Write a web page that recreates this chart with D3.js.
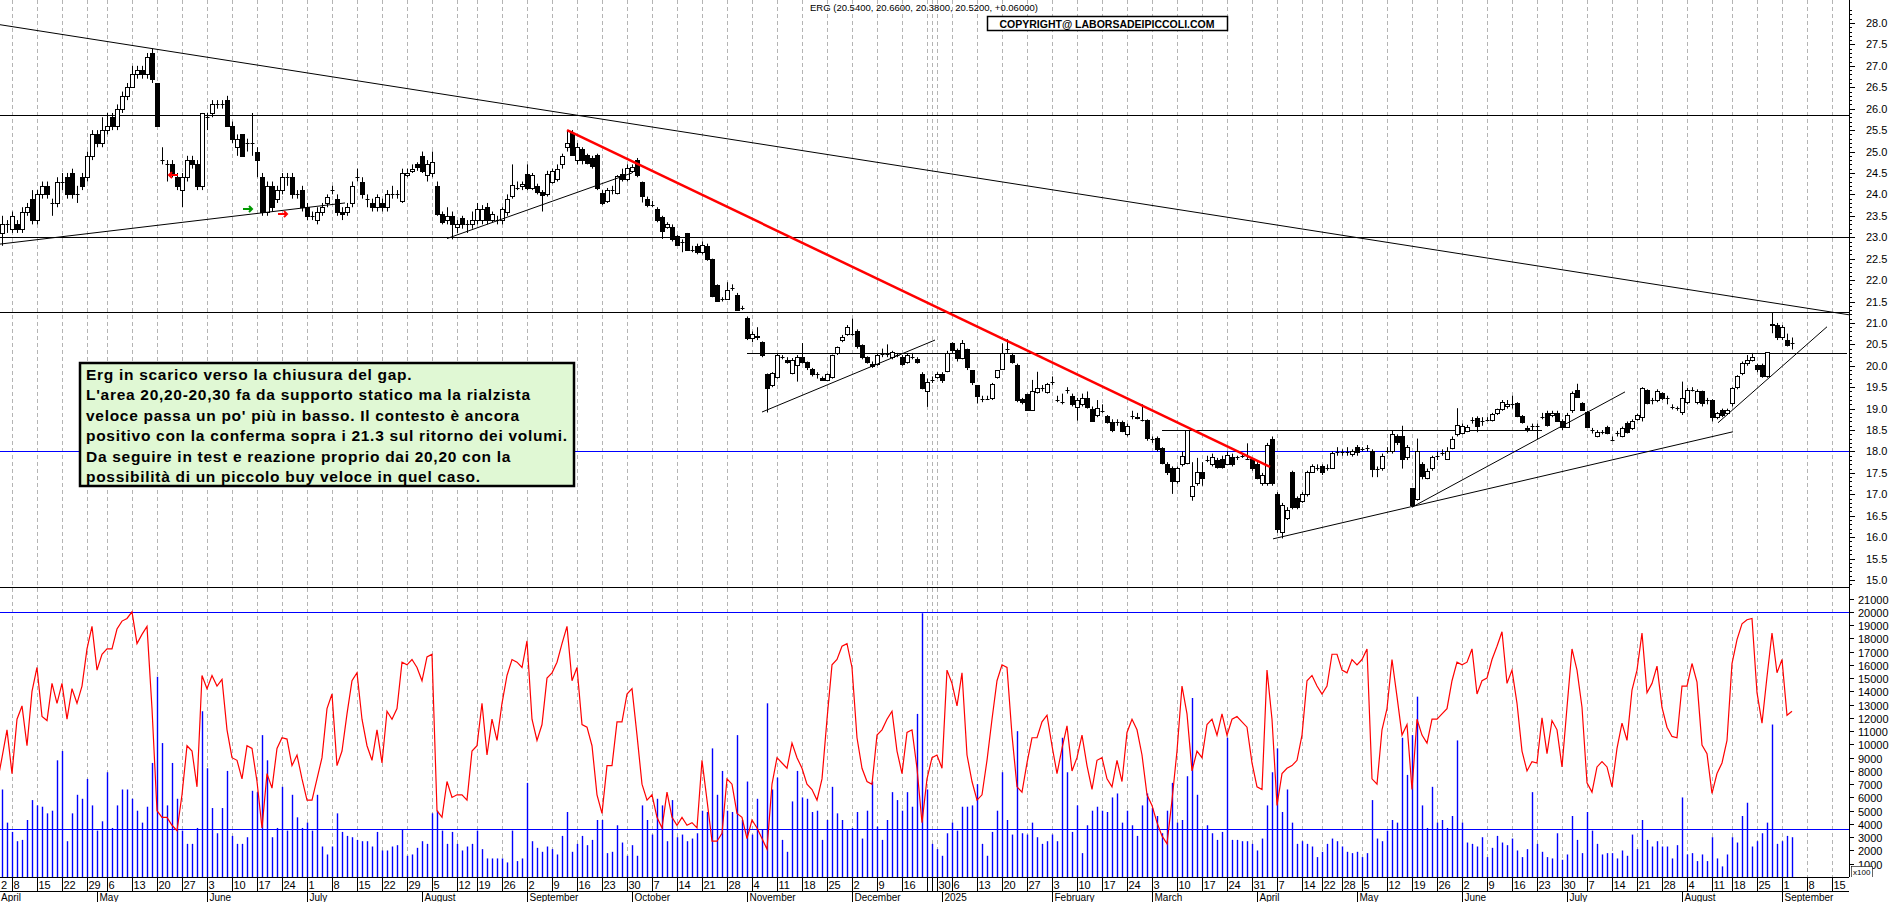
<!DOCTYPE html>
<html><head><meta charset="utf-8">
<script src="https://cdn.jsdelivr.net/npm/d3@7/dist/d3.min.js"></script>
<style>body{margin:0;background:#fff}svg{display:block}text{font-family:"Liberation Sans",Arial,sans-serif}</style>
</head><body><svg id="c" width="1890" height="902"></svg>
<script>
// ---------- DATA ----------
const startDate = "2024-04-02";
const holidays = ["2024-05-01","2024-08-15","2024-12-24","2024-12-25","2024-12-26","2024-12-31","2025-01-01","2025-04-18","2025-04-21","2025-05-01","2025-08-15"];
const monthNames = ["January","February","March","April","May","June","July","August","September","October","November","December"];
// candles: [open, close, high, low]
const candles = [
[23.0,23.2,23.3,22.9],[23.2,23.1,23.3,23.0],[23.1,23.3,23.5,22.8],[23.3,23.3,23.4,23.1],[23.2,23.5,23.6,23.1],
[23.3,23.2,23.4,23.1],[23.2,23.6,23.7,23.1],[23.6,23.7,23.8,23.5],[23.9,23.4,24.1,23.3],[23.4,24.0,24.1,23.3],
[24.0,24.2,24.3,23.9],[24.2,24.0,24.3,23.9],[23.8,23.8,23.9,23.5],[23.8,24.3,24.4,23.7],[24.3,24.3,24.5,24.1],
[24.4,24.0,24.5,23.9],[24.5,24.0,24.6,23.9],[24.0,24.0,24.2,23.8],[24.4,24.2,24.5,24.1],[24.4,24.9,25.0,24.3],
[24.9,25.4,25.5,24.8],[25.4,25.2,25.5,25.1],[25.2,25.5,25.8,25.1],[25.5,25.6,25.9,25.4],[25.8,25.6,25.9,25.5],
[25.6,26.0,26.1,25.5],[26.0,26.3,26.4,25.9],[26.3,26.5,26.6,26.2],[26.5,26.8,27.0,26.5],[26.8,26.9,27.0,26.7],
[26.9,26.8,27.0,26.7],[26.8,27.2,27.3,26.7],[27.3,26.7,27.4,26.6],[26.6,25.6,26.6,25.6],[24.8,24.8,25.1,24.7],
[24.7,24.7,24.8,24.3],[24.7,24.5,24.8,24.4],[24.4,24.2,24.5,24.1],[24.1,24.4,24.5,23.7],[24.4,24.8,24.9,24.3],
[24.8,24.7,24.9,24.6],[24.7,24.2,24.8,24.1],[24.2,25.9,25.9,24.1],[25.8,25.8,25.9,25.5],[25.9,26.1,26.2,25.8],
[26.1,26.1,26.2,26.0],[26.1,26.1,26.2,26.0],[26.2,25.6,26.3,25.6],[25.6,25.3,25.7,25.2],[25.1,25.3,25.4,24.9],
[25.4,24.9,25.4,24.9],[25.2,25.2,25.3,25.0],[25.2,25.2,25.9,24.9],[25.0,24.8,25.1,24.4],[24.4,23.6,24.5,23.5],
[23.6,24.2,24.3,23.5],[24.2,23.7,24.3,23.6],[23.9,24.1,24.2,23.8],[24.1,24.4,24.5,24.0],[24.4,24.4,24.5,24.2],
[24.4,24.0,24.5,23.9],[24.0,24.0,24.1,23.9],[24.1,23.7,24.2,23.6],[23.7,23.5,23.8,23.4],[23.5,23.5,23.6,23.4],
[23.4,23.6,23.7,23.3],[23.6,23.7,23.8,23.5],[23.8,23.95,24.0,23.7],[24.1,24.1,24.2,24.0],[23.9,23.6,24.0,23.5],
[23.6,23.55,23.7,23.4],[23.6,23.7,23.8,23.5],[23.8,24.2,24.3,23.7],[24.4,24.4,24.6,24.3],[24.3,24.0,24.4,23.9],
[23.9,23.9,24.0,23.7],[23.8,23.7,23.9,23.6],[23.7,23.95,24.0,23.6],[23.8,23.7,23.9,23.6],[23.7,24.0,24.1,23.6],
[24.0,24.0,24.2,23.9],[24.0,24.0,24.1,23.9],[23.85,24.5,24.6,23.8],[24.45,24.5,24.6,24.4],[24.55,24.6,24.7,24.5],
[24.7,24.65,24.75,24.55],[24.9,24.55,25.0,24.5],[24.45,24.7,24.8,24.3],[24.5,24.75,25.0,24.4],[24.2,23.55,24.3,23.5],
[23.55,23.35,23.6,23.3],[23.4,23.5,23.7,23.3],[23.5,23.3,23.6,22.95],[23.25,23.3,23.4,23.1],[23.45,23.3,23.5,23.2],
[23.3,23.3,23.4,23.1],[23.3,23.4,23.6,23.2],[23.4,23.66,23.8,23.3],[23.4,23.66,23.75,23.3],[23.7,23.4,23.8,23.3],
[23.4,23.55,23.6,23.35],[23.4,23.4,23.5,23.3],[23.4,23.66,23.7,23.3],[23.6,23.9,24.0,23.5],[23.97,24.23,24.7,23.9],
[24.15,24.15,24.3,24.1],[24.2,24.25,24.3,24.1],[24.48,24.16,24.7,24.1],[24.15,24.45,24.5,24.1],[24.2,24.05,24.25,24.0],
[24.05,23.98,24.1,23.6],[24.0,24.48,24.55,23.95],[24.3,24.55,24.6,24.25],[24.35,24.6,24.7,24.3],[24.7,24.9,24.95,24.6],
[25.1,25.2,25.5,25.0],[25.43,24.92,25.5,24.9],[24.8,25.1,25.2,24.7],[25.05,24.8,25.1,24.7],[24.92,24.73,24.95,24.7],
[24.86,24.67,24.9,24.6],[24.92,24.16,24.95,24.1],[24.04,23.79,24.1,23.75],[23.85,24.1,24.15,23.8],[24.1,24.1,24.2,24.0],
[24.04,24.42,24.45,24.0],[24.48,24.35,24.6,24.3],[24.35,24.61,24.7,24.3],[24.55,24.65,24.7,24.5],[24.8,24.45,24.85,24.4],
[24.3,23.97,24.3,23.81],[23.9,23.75,23.95,23.7],[23.76,23.76,23.85,23.7],[23.66,23.4,23.7,23.35],[23.47,23.15,23.5,22.96],
[23.25,23.3,23.35,23.2],[23.25,22.96,23.3,22.9],[23.02,22.83,23.05,22.8],[22.9,22.9,22.95,22.65],[23.09,22.71,23.1,22.7],
[22.71,22.71,22.8,22.65],[22.8,22.65,22.85,22.6],[22.65,22.83,22.9,22.6],[22.8,22.49,22.85,22.45],[22.49,21.63,22.5,21.6],
[21.89,21.51,21.9,21.5],[21.57,21.57,21.6,21.5],[21.57,21.78,21.95,21.55],[21.82,21.82,21.9,21.75],[21.66,21.31,21.7,21.3],
[21.35,21.35,21.4,21.3],[21.12,20.64,21.15,20.6],[20.64,20.75,20.8,20.55],[20.7,20.68,20.9,20.6],[20.56,20.24,20.57,20.2],
[19.8,19.48,19.82,18.91],[19.54,19.82,19.85,19.5],[19.73,20.24,20.28,19.7],[20.21,20.21,20.25,20.15],[20.14,20.09,20.2,20.05],
[19.83,20.14,20.18,19.8],[20.01,20.21,20.25,19.63],[20.21,20.09,20.53,20.05],[20.09,19.96,20.1,19.9],[19.92,19.8,19.95,19.75],
[19.8,19.8,19.85,19.7],[19.72,19.67,19.75,19.65],[19.67,19.8,19.82,19.65],[19.73,20.24,20.26,19.7],[20.3,20.43,20.45,20.25],
[20.6,20.68,20.72,20.55],[20.75,20.9,20.95,20.7],[20.75,20.75,21.1,20.7],[20.82,20.47,20.85,20.4],[20.49,20.2,20.5,20.15],
[20.2,20.09,20.22,20.05],[20.05,19.99,20.1,19.95],[20.05,20.24,20.28,20.0],[20.28,20.28,20.4,20.2],[20.28,20.28,20.5,20.2],
[20.2,20.31,20.35,20.15],[20.24,20.24,20.3,20.2],[20.21,20.05,20.25,20.0],[20.09,20.24,20.3,20.05],[20.21,20.21,20.3,20.15],
[20.15,20.09,20.2,20.05],[19.8,19.48,19.85,19.45],[19.42,19.63,19.7,19.04],[19.67,19.67,19.75,19.6],[19.73,19.8,19.85,19.7],
[19.8,19.67,19.85,19.6],[19.87,20.3,20.35,19.85],[20.52,20.37,20.55,20.3],[20.37,20.18,20.4,20.1],[20.18,20.52,20.6,20.15],
[20.39,19.96,20.4,19.9],[19.89,19.61,19.9,19.55],[19.54,19.29,19.55,19.12],[19.23,19.23,19.3,19.15],[19.23,19.23,19.3,19.2],
[19.25,19.58,19.6,19.2],[19.73,19.89,19.9,19.7],[19.92,20.3,20.52,19.9],[20.39,20.39,20.62,20.3],[20.24,20.09,20.3,20.05],
[20.01,19.2,20.05,19.15],[19.23,19.16,19.25,19.1],[19.33,18.97,19.35,18.95],[18.97,19.42,19.67,18.95],[19.38,19.48,19.86,19.35],
[19.48,19.48,19.55,19.4],[19.38,19.58,19.6,19.35],[19.63,19.63,19.75,19.55],[19.2,19.2,19.3,19.15],[19.16,19.16,19.35,19.1],
[19.44,19.44,19.5,19.35],[19.29,19.1,19.35,19.05],[19.04,19.2,19.25,18.72],[19.1,19.25,19.35,19.05],[19.25,19.04,19.4,19.0],
[19.0,18.72,19.05,18.7],[18.85,19.02,19.2,18.8],[18.94,18.94,19.1,18.9],[18.82,18.69,18.85,18.65],[18.69,18.49,18.75,18.45],
[18.69,18.69,18.75,18.6],[18.69,18.47,18.72,18.45],[18.4,18.59,18.65,18.35],[18.82,18.82,18.95,18.75],[18.78,18.8,18.9,18.75],
[18.74,18.74,19.1,18.7],[18.74,18.31,18.75,18.25],[18.28,18.28,18.35,18.2],[18.31,18.06,18.35,18.0],[18.09,17.73,18.1,17.7],
[17.71,17.52,17.75,17.45],[17.61,17.3,17.65,17.01],[17.3,17.61,17.65,17.25],[17.71,17.9,18.0,17.65],[17.73,18.49,18.5,17.7],
[16.97,17.2,17.75,16.85],[17.26,17.52,17.85,17.2],[17.52,17.39,17.75,17.2],[17.81,17.81,17.9,17.75],[17.71,17.88,17.95,17.65],
[17.81,17.64,17.85,17.6],[17.83,17.64,17.9,17.6],[17.71,17.91,18.0,17.7],[17.88,17.71,17.95,17.65],[17.86,17.86,17.9,17.8],
[17.9,17.9,17.95,17.85],[17.83,17.83,18.19,17.8],[17.83,17.61,17.85,17.55],[17.71,17.39,17.75,17.35],[17.26,17.45,17.5,17.2],
[17.26,18.15,18.2,17.2],[18.28,17.26,18.35,17.2],[17.01,16.19,17.05,16.1],[16.12,16.76,16.8,15.97],[16.44,16.63,16.7,16.4],
[17.52,16.7,17.55,16.65],[16.92,16.7,16.95,16.65],[16.85,17.01,17.05,16.8],[17.01,17.52,17.55,16.95],[17.52,17.67,17.7,17.5],
[17.61,17.61,17.7,17.55],[17.67,17.52,17.7,17.45],[17.61,17.61,17.7,17.55],[17.61,17.96,18.0,17.6],[17.99,17.99,18.1,17.9],
[17.99,17.99,18.05,17.9],[17.99,17.99,18.1,17.9],[17.93,18.02,18.05,17.88],[18.11,17.99,18.15,17.9],[18.06,18.06,18.1,18.0],
[18.09,18.09,18.15,18.0],[18.02,17.58,18.05,17.4],[17.58,17.58,17.65,17.4],[17.61,17.9,17.95,17.55],[18.02,18.02,18.1,17.95],
[18.02,18.4,18.5,17.95],[18.37,18.22,18.4,18.15],[18.37,17.83,18.6,17.6],[17.86,18.11,18.15,17.8],[17.14,16.76,17.15,16.7],
[16.88,18.02,18.3,16.85],[17.71,17.43,17.75,17.35],[17.39,17.55,17.6,17.35],[17.61,17.86,17.9,17.55],[17.9,17.9,18.0,17.8],
[17.96,17.96,18.05,17.9],[17.83,18.02,18.1,17.8],[18.09,18.3,18.35,18.05],[18.4,18.62,19.01,18.35],[18.44,18.6,18.65,18.4],
[18.47,18.57,18.62,18.45],[18.74,18.74,18.8,18.65],[18.78,18.59,18.82,18.45],[18.72,18.72,18.8,18.6],[18.74,18.74,18.8,18.7],
[18.74,18.87,18.9,18.7],[18.9,18.98,19.0,18.85],[19.0,19.16,19.2,18.95],[19.05,19.1,19.2,19.0],[19.1,19.1,19.3,19.0],
[19.12,18.82,19.15,18.8],[18.82,18.69,18.85,18.65],[18.55,18.5,18.6,18.45],[18.6,18.6,18.65,18.5],[18.59,18.59,18.65,18.28],
[18.81,18.81,18.9,18.75],[18.89,18.62,18.95,18.58],[18.85,18.89,18.95,18.8],[18.89,18.72,18.95,18.7],[18.72,18.58,18.75,18.5],
[18.58,18.85,18.9,18.55],[18.97,19.36,19.4,18.9],[19.44,19.28,19.58,19.25],[19.12,18.97,19.15,18.95],[18.93,18.58,18.95,18.55],
[18.5,18.5,18.55,18.42],[18.36,18.46,18.5,18.33],[18.46,18.46,18.5,18.4],[18.58,18.44,18.6,18.4],[18.27,18.27,18.35,18.24],
[18.42,18.42,18.48,18.35],[18.36,18.54,18.58,18.33],[18.67,18.46,18.7,18.42],[18.54,18.72,18.75,18.5],[18.75,18.85,18.88,18.72],
[18.81,19.48,19.5,18.7],[19.44,19.12,19.45,19.1],[19.2,19.2,19.25,19.1],[19.2,19.4,19.45,19.15],[19.36,19.24,19.38,19.2],
[19.24,19.24,19.3,19.1],[19.03,19.03,19.1,18.98],[19.01,19.01,19.05,18.95],[18.93,19.24,19.63,18.85],[19.16,19.44,19.48,19.1],
[19.44,19.44,19.5,19.4],[19.16,19.4,19.45,19.1],[19.4,19.12,19.42,19.05],[19.2,19.2,19.25,19.1],[19.2,18.81,19.22,18.7],
[18.81,18.89,18.92,18.75],[18.97,18.85,19.0,18.8],[18.89,18.97,19.0,18.85],[19.12,19.48,19.5,19.05],[19.51,19.75,19.78,19.45],
[19.82,20.06,20.1,19.78],[20.06,20.14,20.25,20.0],[20.14,20.21,20.3,20.1],[20.02,19.92,20.05,19.85],[20.02,19.75,20.05,19.72],
[19.75,20.31,20.32,19.72],[20.97,20.95,21.25,20.76],[20.95,20.68,21.0,20.6],[20.67,20.91,20.95,20.6],[20.6,20.49,20.75,20.45],
[20.54,20.52,20.66,20.38]
];
// volume, thousands of shares
const volumeK = [
6.8,3.5,6.6,4.1,3.4,2.7,2.8,4.3,5.8,5.4,5.3,4.8,5.0,8.8,9.5,2.7,4.8,6.2,5.9,7.4,5.4,3.5,4.2,7.9,3.7,5.4,6.6,6.6,5.9,5.0,
4.1,5.3,8.6,15.1,10.1,5.4,8.6,5.9,3.5,2.5,2.5,3.7,12.5,8.2,5.2,3.3,5.2,8.0,3.1,2.5,2.5,3.0,6.5,6.4,10.7,8.8,3.0,3.7,6.8,3.5,
6.2,4.5,3.7,4.1,
3.5,6.2,2.3,1.7,2.3,4.8,3.4,3.1,3.0,2.8,2.7,2.7,2.3,3.4,2.0,2.0,2.3,2.4,3.6,1.6,1.7,2.2,2.7,2.5,4.8,5.0,3.5,2.5,3.4,2.5,
2.0,2.3,2.5,3.5,2.1,1.4,1.4,1.4,1.4,1.1,3.5,1.2,1.4,7.1,2.7,2.2,1.9,2.3,2.1,1.7,3.1,4.9,1.9,2.5,3.1,2.4,2.8,4.3,4.3,1.8,
1.9,3.9,
2.6,1.6,2.4,1.6,5.4,4.3,3.2,5.9,5.4,2.7,5.8,3.0,3.2,2.7,2.9,3.3,5.0,4.9,9.7,6.2,8.0,5.0,4.9,10.7,4.3,7.2,3.2,5.9,3.6,13.1,
6.6,7.5,2.8,1.9,5.7,8.0,6.0,5.9,4.9,5.0,2.8,4.3,6.8,4.8,4.3,3.6,3.7,4.9,2.9,5.0,7.2,3.8,2.8,4.3,6.4,5.8,5.0,6.4,5.3,12.3,
19.9,6.6,
2.5,2.1,1.6,3.3,4.1,3.5,5.3,5.3,5.4,7.0,2.5,1.6,3.4,5.0,7.9,4.3,3.2,11.0,3.3,3.2,4.1,3.0,2.5,2.7,3.2,2.7,10.5,7.9,3.4,5.4,
1.8,3.9,5.0,5.3,5.0,4.9,6.0,6.3,4.1,5.0,3.9,3.1,5.4,6.3,5.2,4.6,3.3,5.0,7.1,4.1,4.3,7.6,13.5,6.2,3.6,3.9,3.3,2.8,3.4,10.5,
2.8,2.8,
2.7,2.7,2.5,2.0,2.9,5.4,7.9,9.7,4.9,6.6,4.1,2.5,2.7,2.5,2.3,1.5,1.9,2.5,2.9,2.7,2.3,1.9,1.8,1.9,1.5,1.8,5.8,2.9,2.7,3.5,
4.3,4.1,10.5,7.7,10.7,13.6,5.4,3.7,6.8,4.1,4.3,3.7,4.6,10.3,4.1,2.6,2.5,2.3,3.0,1.5,2.2,3.1,2.6,2.4,2.9,2.0,1.5,2.1,
6.4,2.5,1.9,1.5,1.4,3.3,1.3,1.7,4.6,2.8,1.8,4.9,3.5,2.5,1.7,1.8,1.8,1.4,2.0,1.6,3.2,2.1,4.3,2.8,2.3,2.7,2.3,2.3,1.4,2.4,
6.0,1.7,1.8,1.2,1.7,1.2,3.0,1.4,0.8,1.7,3.0,2.6,4.6,5.6,2.3,2.7,3.3,4.1,11.5,2.5,2.7,3.1,3.0
];
// red volume oscillator, thousands
const oscK = [
5.8,7.0,9.0,11.1,7.8,11.9,12.9,9.9,14.0,15.8,12.1,11.8,14.6,13.1,14.6,11.9,14.2,13.1,14.4,17.2,18.9,15.6,16.8,17.2,17.2,18.7,19.3,19.5,20.0,17.6,
18.3,18.9,12.7,5.0,4.5,4.5,3.9,3.5,6.2,9.9,9.5,6.8,15.2,14.2,15.2,14.4,14.9,11.1,9.0,8.8,7.4,9.9,9.7,7.2,3.7,7.8,6.7,9.7,10.5,10.4,
8.4,9.2,7.4,5.8,
5.8,7.4,9.0,12.7,13.8,8.4,9.5,12.3,14.8,15.4,11.9,9.9,8.8,11.1,8.6,12.5,11.9,12.7,16.2,16.0,16.4,15.8,14.8,16.6,16.8,5.0,4.5,7.2,6.0,6.2,
6.2,5.8,9.5,9.9,13.1,9.2,11.9,10.3,13.1,15.2,16.4,16.2,15.8,17.8,11.9,10.3,11.5,15.0,15.4,16.2,17.6,18.9,14.8,15.8,11.5,11.3,9.9,6.2,4.8,8.4,
8.4,11.7,
11.7,13.8,14.2,10.7,7.0,5.8,6.2,4.5,3.7,6.4,4.5,3.9,4.5,3.9,4.1,3.7,8.8,5.8,2.7,2.7,3.3,7.4,7.0,4.8,4.5,2.9,4.3,3.7,2.9,2.1,
7.0,9.0,8.6,8.2,10.1,9.0,8.2,7.0,6.6,5.8,7.4,11.9,16.0,16.4,17.4,17.6,15.8,10.5,8.2,7.2,7.0,10.7,11.1,11.9,12.5,9.5,7.8,10.9,11.1,8.2,
4.1,7.4,
9.0,9.2,8.2,15.6,14.6,12.9,15.4,9.2,7.2,5.8,6.2,8.8,11.9,14.8,16.0,15.8,10.7,6.8,6.4,8.6,10.5,10.5,11.7,12.2,9.9,7.8,9.7,11.4,8.0,9.0,
10.7,8.4,6.6,8.8,9.0,7.4,6.8,8.8,7.2,10.9,11.9,11.1,9.2,6.2,5.4,4.1,3.1,2.5,5.8,9.5,14.4,12.3,8.0,9.5,9.0,11.5,11.9,10.7,12.3,10.7,
11.9,12.1,
11.7,11.3,8.6,6.8,6.6,15.6,11.9,5.4,7.8,8.2,8.4,8.8,10.7,14.8,15.2,14.4,13.8,14.4,16.8,16.8,15.6,15.4,16.4,16.0,16.4,17.2,7.4,7.0,11.1,12.7,
16.4,13.6,10.7,11.5,6.6,11.9,10.7,10.1,11.9,11.9,12.3,12.7,14.8,16.2,16.0,16.2,17.2,13.8,14.8,15.0,16.4,17.4,18.5,14.6,15.6,13.1,9.5,8.0,
8.7,8.6,12.0,9.3,11.8,11.1,8.3,12.8,17.2,15.6,12.8,7.1,6.4,8.3,8.7,8.3,6.8,9.7,11.6,10.3,14.1,15.6,18.4,13.9,14.6,15.9,12.8,11.3,10.6,10.5,
14.4,14.4,16.1,14.7,9.95,9.3,6.3,7.8,8.6,10.3,16.1,17.9,19.1,19.4,19.5,13.9,11.6,15.1,18.4,15.4,16.4,12.2,12.5
];
const priceTicks = d3.range(15, 28.01, 0.5);
const volTicks = d3.range(1000, 21001, 1000);
const hLevels = [25.85, 23.0, 21.25];
const hPartial = [[151, 371, 20.3], [234, 310, 18.5]];
const blueLevel = 18.0;
const volLevels = [20000, 3600];
const trendBlack = [[1.6,27.96,371.4,21.19],[1.6,22.84,70.6,23.8],[91,22.97,128,24.5],[154,18.92,188.6,20.6],
  [256.2,15.96,348.2,18.46],[284,16.70,326.6,19.39],[345.2,18.67,367,20.91]];
const trendRed = [[115,25.5,255.6,17.64]];
const arrows = [[51.2,23.66,"#009900",1],[36.2,24.45,"#ff0000",-1],[58.2,23.54,"#ff0000",1]];
const header = "ERG (20.5400, 20.6600, 20.3800, 20.5200, +0.06000)";
const copyright = "COPYRIGHT@ LABORSADEIPICCOLI.COM";
const note = ["Erg in scarico verso la chiusura del gap.",
"L'area 20,20-20,30 fa da supporto statico ma la rialzista",
"veloce passa un po' più in basso. Il contesto è ancora",
"positivo con la conferma sopra i 21.3 sul ritorno dei volumi.",
"Da seguire in test e reazione proprio dai 20,20 con la",
"possibilità di un piccolo buy veloce in quel caso."];

// ---------- LAYOUT ----------
const svg = d3.select("#c");
const W = 1890, axisX = 1849, priceBottom = 587, volBottom = 877;
const x = d3.scaleLinear().domain([0, 358]).range([-8, 1782]);
const y = d3.scaleLinear().domain([15, 28]).range([580, 23]);
const yv = d3.scaleLinear().domain([0, 20]).range([volBottom, volBottom - 265.2]);

const hol = new Set(holidays);
const dates = [];
let d = new Date(startDate + "T00:00:00Z");
while (dates.length < 380) {
  const wd = d.getUTCDay(), key = d.toISOString().slice(0,10);
  if (wd !== 0 && wd !== 6 && !hol.has(key)) dates.push(new Date(d));
  d = new Date(d.getTime() + 86400000);
}
const weekStarts = [], monthStarts = [];
dates.forEach((dt, i) => {
  if (i === 0 || dt.getUTCDay() <= dates[i-1].getUTCDay() || (dt - dates[i-1]) > 3*86400000) weekStarts.push(i);
  if (i === 0 || dt.getUTCMonth() !== dates[i-1].getUTCMonth()) monthStarts.push(i);
});

const g0 = svg.append("g");
weekStarts.filter(i => x(i) > 0 && x(i) < axisX).forEach(i => {
  g0.append("line").attr("x1", x(i)+0.5).attr("x2", x(i)+0.5).attr("y1", 0).attr("y2", volBottom)
    .attr("stroke", "#b4b4b4").attr("stroke-dasharray", "4,3");
});
hLevels.forEach(p => g0.append("line").attr("x1",0).attr("x2",axisX).attr("y1",Math.round(y(p))+0.5).attr("y2",Math.round(y(p))+0.5).attr("stroke","#000"));
hPartial.forEach(([a,b,p]) => g0.append("line").attr("x1",x(a)).attr("x2",Math.min(axisX,x(b))).attr("y1",Math.round(y(p))+0.5).attr("y2",Math.round(y(p))+0.5).attr("stroke","#000"));
g0.append("line").attr("x1",0).attr("x2",axisX).attr("y1",Math.round(y(blueLevel))+0.5).attr("y2",Math.round(y(blueLevel))+0.5).attr("stroke","#0000ff");
g0.append("line").attr("x1",0).attr("x2",axisX).attr("y1",priceBottom+0.5).attr("y2",priceBottom+0.5).attr("stroke","#000");
volLevels.forEach(v => g0.append("line").attr("x1",0).attr("x2",axisX).attr("y1",Math.round(yv(v/1000))+0.5).attr("y2",Math.round(yv(v/1000))+0.5).attr("stroke","#0000ff"));

svg.append("clipPath").attr("id", "pc").append("rect").attr("x",0).attr("y",0).attr("width",axisX).attr("height",priceBottom);
const gt = svg.append("g").attr("clip-path", "url(#pc)");
trendBlack.forEach(([a,p,b,q]) => gt.append("line").attr("x1",x(a)).attr("y1",y(p)).attr("x2",x(b)).attr("y2",y(q)).attr("stroke","#000").attr("stroke-width",1));

const gc = svg.append("g");
candles.forEach(([o,c,h,l], i) => {
  const cx = Math.round(x(i)) + 0.5;
  gc.append("line").attr("x1",cx).attr("x2",cx).attr("y1",y(h)).attr("y2",y(l)).attr("stroke","#000");
  const top = Math.round(y(Math.max(o,c))), bot = Math.round(y(Math.min(o,c)));
  if (bot - top < 1) {
    gc.append("line").attr("x1",cx-2).attr("x2",cx+2).attr("y1",top+0.5).attr("y2",top+0.5).attr("stroke","#000");
  } else {
    gc.append("rect").attr("x",cx-2).attr("y",top+0.5).attr("width",4).attr("height",bot-top)
      .attr("fill", c >= o ? "#fff" : "#000").attr("stroke","#000");
  }
});
trendRed.forEach(([a,p,b,q]) => gt.append("line").attr("x1",x(a)).attr("y1",y(p)).attr("x2",x(b)).attr("y2",y(q)).attr("stroke","#ff0000").attr("stroke-width",2.5));
svg.node().appendChild(gt.node());
arrows.forEach(([i,p,col,dir]) => {
  const ax = x(i), ay = y(p);
  svg.append("path").attr("d", `M${ax-5*dir},${ay} L${ax+4*dir},${ay} M${ax+1*dir},${ay-3} L${ax+4*dir},${ay} L${ax+1*dir},${ay+3}`)
    .attr("stroke", col).attr("stroke-width", 2).attr("fill","none");
});

const gvol = svg.append("g");
volumeK.forEach((v, i) => {
  const cx = Math.round(x(i)) + 0.5;
  gvol.append("line").attr("x1",cx).attr("x2",cx).attr("y1",volBottom).attr("y2",yv(v)).attr("stroke","#0000ff").attr("stroke-width",1.4);
});
svg.append("path").datum(oscK).attr("fill","none").attr("stroke","#ff0000").attr("stroke-width",1.2)
  .attr("d", d3.line().x((v,i) => x(i)).y(v => yv(v)));

const ga = svg.append("g");
ga.append("rect").attr("x",axisX+1).attr("y",0).attr("width",W-axisX).attr("height",902).attr("fill","#fff");
ga.append("line").attr("x1",axisX+0.5).attr("x2",axisX+0.5).attr("y1",0).attr("y2",volBottom).attr("stroke","#000");
d3.range(149, 284).map(k => k/10).forEach(p => {
  const yy = Math.round(y(p)) + 0.5; if (yy < 0 || yy > priceBottom) return;
  const major = Math.abs(p*2 - Math.round(p*2)) < 1e-6;
  ga.append("line").attr("x1",axisX).attr("x2",axisX + (major ? 6 : 3)).attr("y1",yy).attr("y2",yy).attr("stroke","#000");
});
priceTicks.forEach(p => ga.append("text").attr("x",1866).attr("y",y(p)+4).attr("font-size",11).text(p.toFixed(1)));
volTicks.forEach(v => {
  const yy = Math.round(yv(v/1000)) + 0.5;
  ga.append("line").attr("x1",axisX).attr("x2",axisX+5).attr("y1",yy).attr("y2",yy).attr("stroke","#000");
  ga.append("text").attr("x",1858).attr("y",yy+4).attr("font-size",11).text(v);
});
ga.append("rect").attr("x",1851.5).attr("y",866.5).attr("width",21).attr("height",11).attr("fill","#fff").attr("stroke","#000").attr("stroke-width",0.6);
ga.append("text").attr("x",1853).attr("y",875).attr("font-size",8).text("x100");

// bottom axis
const gb = svg.append("g");
gb.append("rect").attr("x",0).attr("y",volBottom).attr("width",W).attr("height",30).attr("fill","#fff");
gb.append("line").attr("x1",0).attr("x2",axisX).attr("y1",volBottom+0.5).attr("y2",volBottom+0.5).attr("stroke","#000");
gb.append("line").attr("x1",0).attr("x2",axisX).attr("y1",891.5).attr("y2",891.5).attr("stroke","#000");
weekStarts.forEach((i, k) => {
  const xx = Math.round(x(i)) + 0.5; if (xx > axisX - 8) return;
  if (xx > 0) gb.append("line").attr("x1",xx).attr("x2",xx).attr("y1",volBottom).attr("y2",891).attr("stroke","#000");
  const nxt = k + 1 < weekStarts.length ? x(weekStarts[k+1]) : xx + 25;
  const label = String(dates[i].getUTCDate());
  const room = nxt - xx - 1;
  const fs = room >= 13 ? 11 : (room >= 8 ? 8 : 0);
  if (fs === 0) return;
  gb.append("text").attr("x",Math.max(1,xx+1)).attr("y",889).attr("font-size",fs)
    .text(room >= 13 || label.length === 1 ? label : label.slice(0,1));
});
monthStarts.forEach(i => {
  const xx = Math.round(x(i)) + 0.5; if (xx > axisX - 20) return;
  if (xx > 0) gb.append("line").attr("x1",xx).attr("x2",xx).attr("y1",891).attr("y2",902).attr("stroke","#000");
  const m = dates[i].getUTCMonth();
  gb.append("text").attr("x",Math.max(1,xx+2)).attr("y",901).attr("font-size",10).text(m === 0 ? dates[i].getUTCFullYear() : monthNames[m]);
});

svg.append("text").attr("x",810).attr("y",11).attr("font-size",9.5).text(header);
svg.append("rect").attr("x",987.5).attr("y",16.5).attr("width",240).attr("height",14).attr("fill","#fff").attr("stroke","#000").attr("stroke-width",1.5);
svg.append("text").attr("x",1107).attr("y",27.5).attr("text-anchor","middle").attr("font-size",10.5).attr("font-weight","bold").text(copyright);

const bx = 80, by = 363, bw = 494, bh = 123;
svg.append("rect").attr("x",bx).attr("y",by).attr("width",bw).attr("height",bh).attr("fill","#e0f8d4").attr("stroke","#000").attr("stroke-width",2.5);
const tl = note.map((s, k) => svg.append("text").attr("x",bx+6).attr("y",by+17+k*20.4).attr("font-size",15.5).attr("font-weight","bold").text(s));
const w4 = tl[3].node().getComputedTextLength();
const ls = (bw - 12 - w4) / note[3].length;
tl.forEach(t => t.attr("letter-spacing", ls.toFixed(2)));
</script></body></html>
